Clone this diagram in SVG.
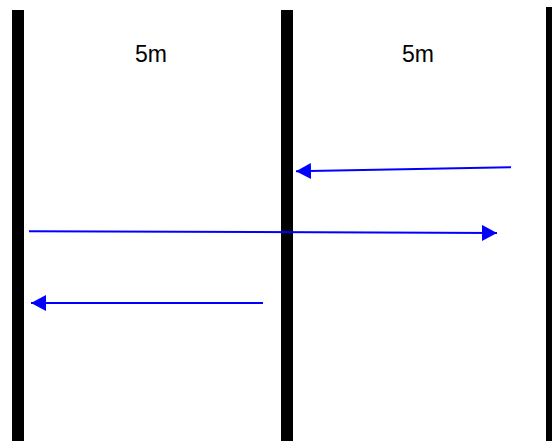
<svg xmlns="http://www.w3.org/2000/svg" width="552" height="441" viewBox="0 0 552 441">
<defs>
<style>
.wall{fill:#000}
.lbl{font-family:"Liberation Sans",Arial,sans-serif;font-size:23px;fill:#000;text-anchor:middle}
.arr{stroke:#0000ff;stroke-width:2;fill:none;marker-end:url(#ah)}
</style>
<marker id="ah" viewBox="0 0 16 16" refX="15" refY="8" markerWidth="16" markerHeight="16" markerUnits="userSpaceOnUse" orient="auto">
<path d="M0,0 L15,8 L0,16 Z" fill="#0000ff"/>
</marker>
</defs>
<g id="wall-left"><rect class="wall" x="12" y="10" width="12" height="431"/></g>
<g id="wall-mid"><rect class="wall" x="281" y="10" width="12" height="431"/></g>
<g id="wall-right"><rect class="wall" x="546" y="7" width="12" height="434"/></g>
<g id="label-left"><text class="lbl" x="151" y="62">5m</text></g>
<g id="label-right"><text class="lbl" x="418" y="62">5m</text></g>
<g id="connectors">
<line class="arr" x1="511" y1="167.3" x2="296" y2="171.3"/>
<line class="arr" x1="29" y1="231.3" x2="497" y2="233"/>
<line class="arr" x1="263" y1="303" x2="31" y2="303"/>
</g>
</svg>
